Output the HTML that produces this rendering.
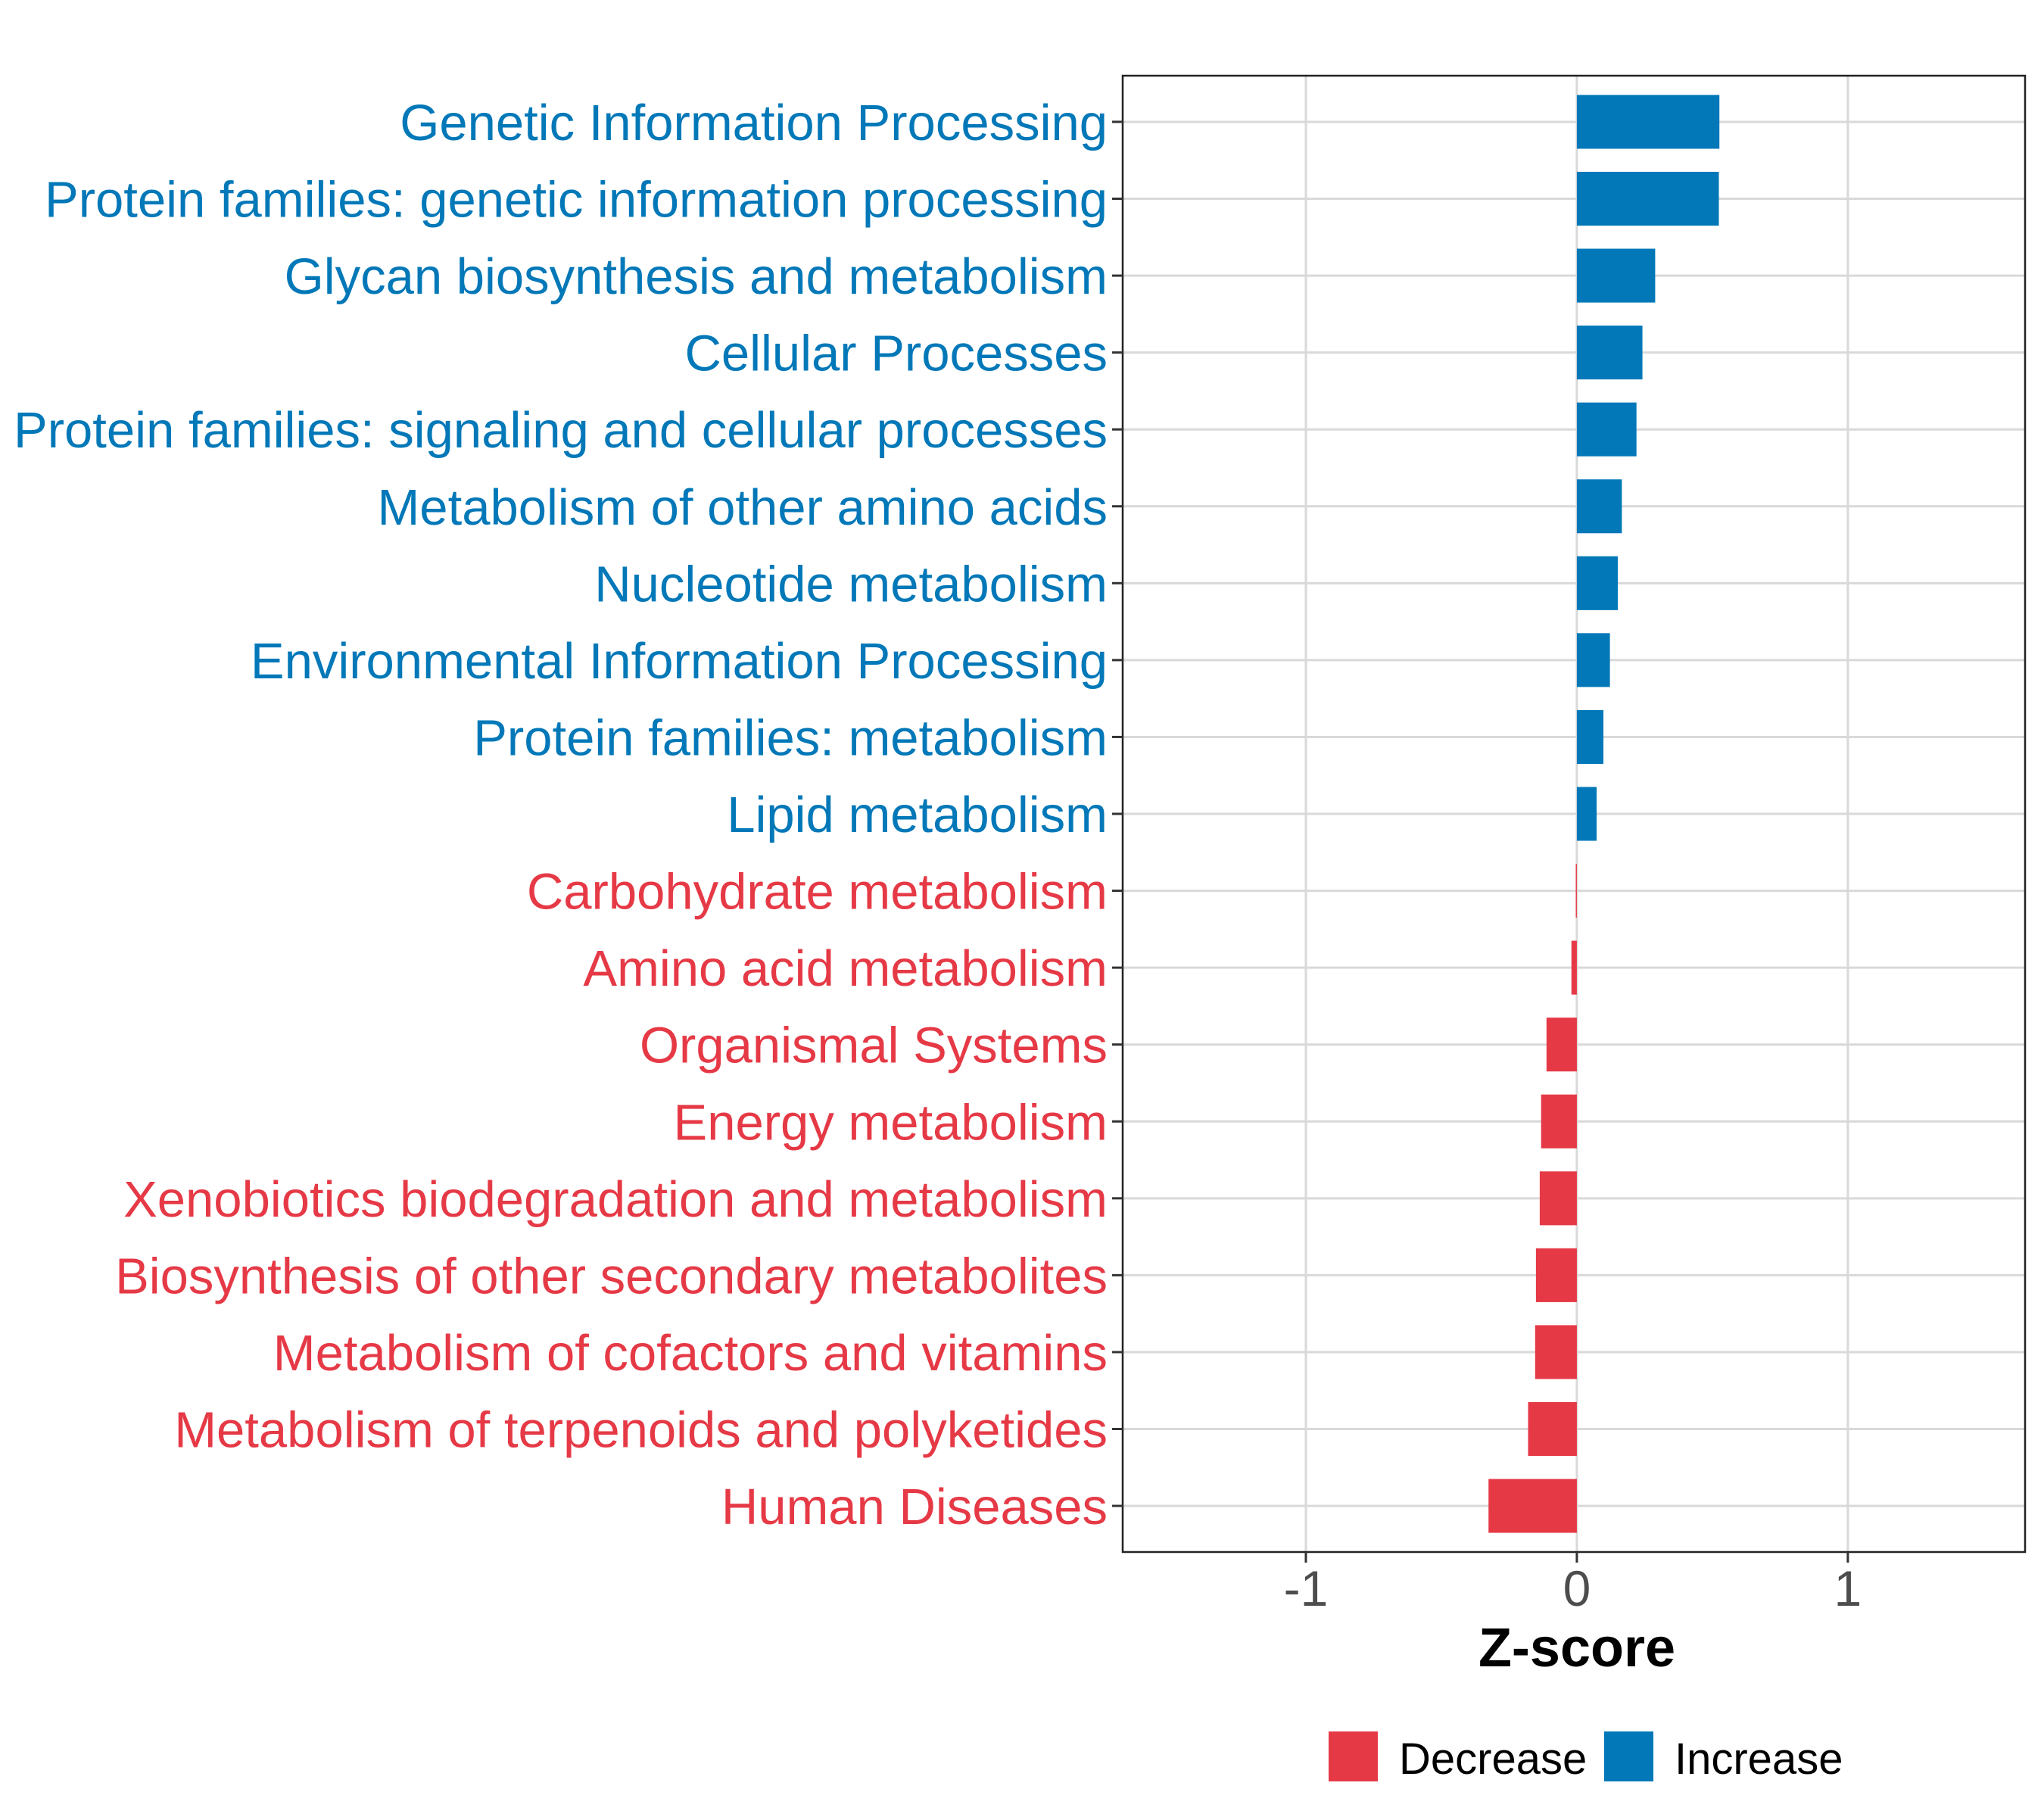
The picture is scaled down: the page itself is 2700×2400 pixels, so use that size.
<!DOCTYPE html>
<html><head><meta charset="utf-8"><style>
html,body{margin:0;padding:0;background:#fff;}
svg{display:block;}
text{font-family:"Liberation Sans",Arial,sans-serif;}
</style></head><body>
<svg id="chart" width="2700" height="2400" viewBox="0 0 2700 2400" xmlns="http://www.w3.org/2000/svg">
<g id="grid"></g>
<g id="bars"></g>
<rect x="1483" y="100" width="1192" height="1950" fill="none" stroke="#222" stroke-width="2.5"/>
<g id="ylabels"></g>
<g id="xticks"></g>
<text x="2083" y="2201" font-size="72" font-weight="bold" text-anchor="middle" fill="#000">Z-score</text>
<g>
<rect x="1755" y="2287" width="65" height="66" fill="#E63946"/>
<text x="1848" y="2343" font-size="58" fill="#000">Decrease</text>
<rect x="2119" y="2287" width="65" height="66" fill="#0278B8"/>
<text x="2212" y="2343" font-size="58" fill="#000">Increase</text>
</g>
</svg>
<script>
const categories = ["Genetic Information Processing","Protein families: genetic information processing","Glycan biosynthesis and metabolism","Cellular Processes","Protein families: signaling and cellular processes","Metabolism of other amino acids","Nucleotide metabolism","Environmental Information Processing","Protein families: metabolism","Lipid metabolism","Carbohydrate metabolism","Amino acid metabolism","Organismal Systems","Energy metabolism","Xenobiotics biodegradation and metabolism","Biosynthesis of other secondary metabolites","Metabolism of cofactors and vitamins","Metabolism of terpenoids and polyketides","Human Diseases"];
const zscores = [0.526,0.524,0.289,0.242,0.22,0.166,0.151,0.122,0.098,0.073,-0.004,-0.02,-0.112,-0.132,-0.137,-0.151,-0.154,-0.18,-0.326];
const xTickValues = [-1,0,1];
const xTickLabels = ["-1","0","1"];

const NS="http://www.w3.org/2000/svg";
const panel={left:1483,right:2675,top:100,bottom:2050};
const xmin=-1.676,xmax=1.654;
function xScale(v){return panel.left+(v-xmin)/(xmax-xmin)*(panel.right-panel.left);}
const n=categories.length;
const step=(panel.bottom-panel.top)/(n-1+1.2);
function yScale(i){return panel.top+step*(0.6+i);}
const barH=step*0.7;
const blue="#0278B8",red="#E63946";
function mk(tag,attrs,parent){const e=document.createElementNS(NS,tag);for(const k in attrs)e.setAttribute(k,attrs[k]);parent.appendChild(e);return e;}
const grid=document.getElementById('grid'),bars=document.getElementById('bars'),yl=document.getElementById('ylabels'),xt=document.getElementById('xticks');
categories.forEach((c,i)=>{
  const y=yScale(i);
  const gl=mk('line',{x1:panel.left,x2:panel.right,y1:y,y2:y,stroke:"#d9d9d9","stroke-width":3},grid);
  
  
});
xTickValues.forEach((v,i)=>{
  const x=xScale(v);
  const gl=mk('line',{x1:x,x2:x,y1:panel.top,y2:panel.bottom,stroke:"#d9d9d9","stroke-width":3},grid);
  
  
  const tk=mk('line',{x1:x,x2:x,y1:panel.bottom,y2:panel.bottom+14,stroke:"#333","stroke-width":3},xt);
  
  
  const t=mk('text',{x:x,y:2121,"font-size":66,"text-anchor":"middle",fill:"#4d4d4d"},xt);
  t.textContent=xTickLabels[i];
  
  
});
categories.forEach((c,i)=>{
  const y=yScale(i),v=zscores[i];
  const col=v>=0?blue:red;
  const x0=xScale(0),x1=xScale(v);
  const r=mk('rect',{x:Math.min(x0,x1),y:y-barH/2,width:Math.max(Math.abs(x1-x0),1),height:barH,fill:col},bars);
  
  
  const tk=mk('line',{x1:panel.left-14,x2:panel.left,y1:y,y2:y,stroke:"#333","stroke-width":3},yl);
  
  
  const t=mk('text',{x:1463,y:y+24,"font-size":67,"text-anchor":"end",fill:col},yl);
  t.textContent=c;
  
  
});
</script>
</body></html>
